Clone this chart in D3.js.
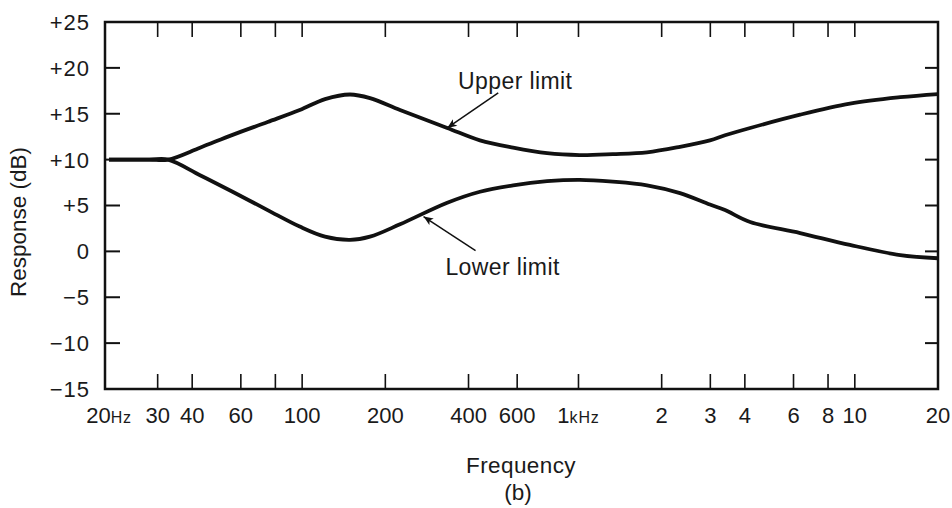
<!DOCTYPE html>
<html>
<head>
<meta charset="utf-8">
<script src="https://cdnjs.cloudflare.com/ajax/libs/d3/7.8.5/d3.min.js"></script>
<style>
    body { margin: 0; background: #fff; }
    #space { width: 952px; height: 508px; }
    text { font-family: "Liberation Sans", Arial, sans-serif; fill: #1a1a1a; }
</style>
</head>
<body>
<div id="space"></div>
<script>
// Frequency points (Hz)
var freqs = [20, 28, 32.7, 42.7, 56, 75, 98, 121, 149, 176, 226, 335, 440, 580, 770, 1010, 1330, 1770, 2330, 2990, 3390, 4180, 6340, 9600, 14600, 20000];
// Response limits (dB)
var upperDb = [10, 10, 10, 11.3, 12.7, 14.1, 15.4, 16.6, 17.1, 16.7, 15.4, 13.45, 12.1, 11.3, 10.7, 10.5, 10.6, 10.8, 11.4, 12.1, 12.65, 13.45, 14.9, 16.1, 16.8, 17.15];
var lowerDb = [10, 10, 10, 8.3, 6.5, 4.5, 2.7, 1.6, 1.25, 1.6, 2.95, 5.3, 6.5, 7.2, 7.65, 7.8, 7.6, 7.2, 6.35, 5.1, 4.5, 3.2, 2.0, 0.7, -0.4, -0.75];

// Axis ticks
var xTicks = [30, 40, 60, 80, 100, 200, 400, 600, 1000, 2000, 3000, 4000, 6000, 8000, 10000];
var xLabelFreqs = [20, 30, 40, 60, 100, 200, 400, 600, 1000, 2000, 3000, 4000, 6000, 8000, 10000, 20000];
var xLabelNums = ["20", "30", "40", "60", "100", "200", "400", "600", "1", "2", "3", "4", "6", "8", "10", "20"];
var xLabelUnits = ["Hz", "", "", "", "", "", "", "", "kHz", "", "", "", "", "", "", ""];
var yTicks = [-10, -5, 0, 5, 10, 15, 20];
var yLabelVals = [-15, -10, -5, 0, 5, 10, 15, 20, 25];

// Annotations: label, frequency/dB of arrow tip
var annoLabels = ["Upper limit", "Lower limit"];
var annoFreqs = [335, 275];
var annoDb = [13.45, 3.8];

var svg, x, y;
var frame = { left: 105, right: 938, top: 22, bottom: 389 };

init();

function init() {
    initSvg();
    initScales();
    drawFrame();
    drawTicks();
    drawLabels();
    drawCurves();
    drawAnnotations();
}

function initSvg() {
    svg = d3.select("#space").append("svg")
        .attr("xmlns", "http://www.w3.org/2000/svg")
        .attr("width", 952)
        .attr("height", 508);
}

function initScales() {
    x = d3.scaleLog().domain([20, 20000]).range([109, frame.right]);
    y = d3.scaleLinear().domain([-15, 25]).range([frame.bottom, frame.top]);
}

/************************************************
				Frame and ticks
*************************************************/
function drawFrame() {
    svg.append("rect")
        .attr("x", frame.left)
        .attr("y", frame.top)
        .attr("width", frame.right - frame.left)
        .attr("height", frame.bottom - frame.top)
        .attr("fill", "none")
        .attr("stroke", "#111")
        .attr("stroke-width", 2.5);
}

function drawTicks() {
    var g = svg.append("g").attr("stroke", "#111").attr("stroke-width", 1.6);

    // bottom and top ticks point inward
    g.selectAll(".xb").data(xTicks).enter().append("line")
        .attr("x1", function (d) { return x(d); })
        .attr("x2", function (d) { return x(d); })
        .attr("y1", frame.bottom)
        .attr("y2", frame.bottom - 15);
    g.selectAll(".xt").data(xTicks).enter().append("line")
        .attr("x1", function (d) { return x(d); })
        .attr("x2", function (d) { return x(d); })
        .attr("y1", frame.top)
        .attr("y2", frame.top + 15);

    // left and right ticks
    g.selectAll(".yl").data(yTicks).enter().append("line")
        .attr("x1", frame.left)
        .attr("x2", frame.left + 15)
        .attr("y1", function (d) { return y(d); })
        .attr("y2", function (d) { return y(d); })
        .attr("stroke-width", 2);
    g.selectAll(".yr").data(yTicks).enter().append("line")
        .attr("x1", frame.right)
        .attr("x2", frame.right - 13)
        .attr("y1", function (d) { return y(d); })
        .attr("y2", function (d) { return y(d); })
        .attr("stroke-width", 2);
}

function fmtDb(v) {
    if (v > 0) return "+" + v;
    if (v < 0) return "\u2212" + Math.abs(v);
    return "0";
}

function drawLabels() {
    // y tick labels
    svg.append("g").selectAll("text").data(yLabelVals).enter().append("text")
        .attr("x", 90)
        .attr("y", function (d) { return y(d); })
        .attr("dy", "0.36em")
        .attr("text-anchor", "end")
        .attr("font-size", 22)
        .attr("letter-spacing", 1)
        .text(fmtDb);

    // x tick labels, with small unit text
    var lbl = svg.append("g").selectAll("text").data(xLabelFreqs).enter().append("text")
        .attr("x", function (d) { return x(d); })
        .attr("y", 423)
        .attr("text-anchor", "middle")
        .attr("font-size", 22);
    lbl.append("tspan").text(function (d, i) { return xLabelNums[i]; });
    lbl.append("tspan")
        .attr("font-size", 16)
        .attr("letter-spacing", 0.8)
        .text(function (d, i) { return xLabelUnits[i]; });

    // axis titles
    svg.append("text")
        .attr("transform", "translate(26,222) rotate(-90)")
        .attr("text-anchor", "middle")
        .attr("font-size", 22.5)
        .text("Response (dB)");

    svg.append("text")
        .attr("x", 521)
        .attr("y", 473)
        .attr("text-anchor", "middle")
        .attr("font-size", 22.5)
        .attr("letter-spacing", 0.4)
        .text("Frequency");

    svg.append("text")
        .attr("x", 518)
        .attr("y", 500)
        .attr("text-anchor", "middle")
        .attr("font-size", 22.5)
        .text("(b)");
}

/************************************************
				Curves
*************************************************/
function drawCurves() {
    var line = d3.line()
        .x(function (d) { return x(d[0]); })
        .y(function (d) { return y(d[1]); })
        .curve(d3.curveCatmullRom.alpha(0.5));

    var series = [upperDb, lowerDb];
    for (var i = 0; i < series.length; i++) {
        var pts = freqs.map(function (f, j) { return [f, series[i][j]]; });
        svg.append("path")
            .attr("d", line(pts))
            .attr("fill", "none")
            .attr("stroke", "#111")
            .attr("stroke-width", 3.8)
            .attr("stroke-linejoin", "round");
    }
}

function drawAnnotations() {
    svg.append("defs").append("marker")
        .attr("id", "arrow")
        .attr("viewBox", "0 0 12 10")
        .attr("refX", 12)
        .attr("refY", 5)
        .attr("markerWidth", 11)
        .attr("markerHeight", 8)
        .attr("markerUnits", "userSpaceOnUse")
        .attr("orient", "auto")
        .append("path")
        .attr("d", "M0,0 L12,5 L0,10 L3,5 z")
        .attr("fill", "#111");

    // offsets of arrow tail and text from the tip
    var tail = [[51, -35], [52, 34]];
    var textPos = [[68, -39], [79, 58]];

    for (var i = 0; i < annoLabels.length; i++) {
        var tx = x(annoFreqs[i]), ty = y(annoDb[i]);
        svg.append("line")
            .attr("x1", tx + tail[i][0])
            .attr("y1", ty + tail[i][1])
            .attr("x2", tx)
            .attr("y2", ty)
            .attr("stroke", "#111")
            .attr("stroke-width", 1.5)
            .attr("marker-end", "url(#arrow)");

        svg.append("text")
            .attr("x", tx + textPos[i][0])
            .attr("y", ty + textPos[i][1])
            .attr("text-anchor", "middle")
            .attr("font-size", 23)
            .attr("letter-spacing", 0.4)
            .text(annoLabels[i]);
    }
}
</script>
</body>
</html>
